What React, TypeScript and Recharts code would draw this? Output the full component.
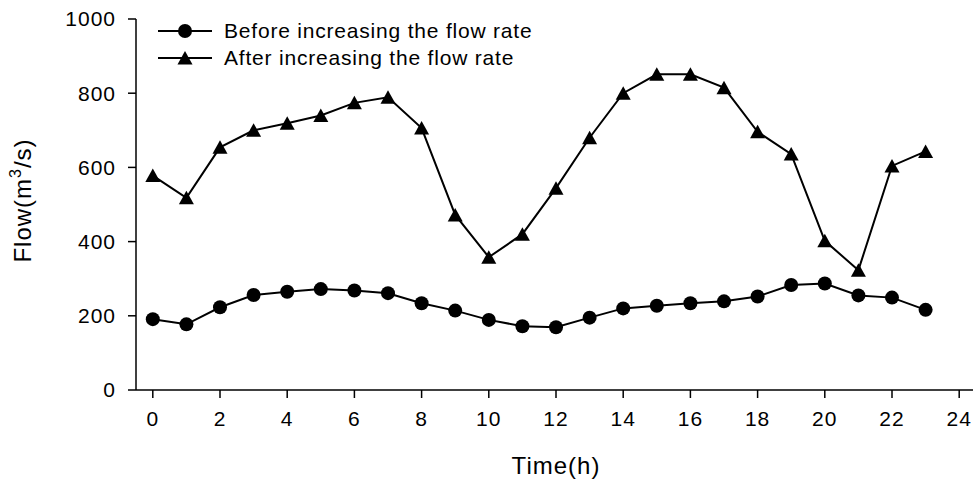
import { LineChart, Line, XAxis, YAxis, Legend } from "recharts";

const hours = [0, 1, 2, 3, 4, 5, 6, 7, 8, 9, 10, 11, 12, 13, 14, 15, 16, 17, 18, 19, 20, 21, 22, 23];
const beforeFlow = [191, 177, 223, 256, 265, 272, 268, 261, 234, 214, 189, 172, 169, 195, 220, 227, 234, 239, 252, 283, 287, 255, 249, 216];
const afterFlow = [578, 518, 654, 700, 719, 740, 774, 789, 706, 472, 358, 420, 544, 680, 800, 851, 851, 815, 696, 636, 402, 323, 604, 643];
const xTicks = [0, 2, 4, 6, 8, 10, 12, 14, 16, 18, 20, 22, 24];
const yTicks = [0, 200, 400, 600, 800, 1000];

const data = hours.map((h, i) => ({ hour: h, before: beforeFlow[i], after: afterFlow[i] }));

const FONT = "'Liberation Sans', Arial, sans-serif";

const CircleDot = (props: any) => {
  const { cx, cy, index } = props;
  if (cx == null || cy == null) return <g key={`c-${index}`} />;
  return <circle key={`c-${index}`} cx={cx} cy={cy} r={7} fill="#000" />;
};

const TriangleDot = (props: any) => {
  const { cx, cy, index } = props;
  if (cx == null || cy == null) return <g key={`t-${index}`} />;
  return (
    <polygon
      key={`t-${index}`}
      points={`${cx},${cy - 7} ${cx + 7.5},${cy + 6.5} ${cx - 7.5},${cy + 6.5}`}
      fill="#000"
    />
  );
};

const LegendBox = () => (
  <div style={{ fontFamily: FONT, fontSize: 21, letterSpacing: 0.8, color: "#000", lineHeight: "27px" }}>
    <div style={{ display: "flex", alignItems: "center", height: 27 }}>
      <svg width={54} height={20} style={{ marginRight: 12 }}>
        <line x1={0} y1={10} x2={54} y2={10} stroke="#000" strokeWidth={2} />
        <circle cx={27} cy={10} r={7} fill="#000" />
      </svg>
      <span>Before increasing the flow rate</span>
    </div>
    <div style={{ display: "flex", alignItems: "center", height: 27 }}>
      <svg width={54} height={20} style={{ marginRight: 12 }}>
        <line x1={0} y1={10} x2={54} y2={10} stroke="#000" strokeWidth={2} />
        <polygon points="27,3 34.5,16.5 19.5,16.5" fill="#000" />
      </svg>
      <span>After increasing the flow rate</span>
    </div>
  </div>
);

const YTitle = (props: any) => {
  const vb = props.viewBox || { x: 0, y: 19, width: 136, height: 371 };
  const cx = 23;
  const cy = vb.y + vb.height / 2 - 4;
  return (
    <text
      x={cx}
      y={cy}
      dy="0.35em"
      transform={`rotate(-90, ${cx}, ${cy})`}
      textAnchor="middle"
      fontFamily={FONT}
      fontSize={24}
      letterSpacing={1}
      fill="#000"
    >
      Flow(m
      <tspan dy={-10} fontSize={16}>3</tspan>
      <tspan dy={10}>/s)</tspan>
    </text>
  );
};

const XTitle = (props: any) => {
  const vb = props.viewBox || { x: 136, y: 390, width: 840, height: 92 };
  return (
    <text
      x={vb.x + vb.width / 2}
      y={474}
      textAnchor="middle"
      fontFamily={FONT}
      fontSize={24}
      letterSpacing={1}
      fill="#000"
    >
      Time(h)
    </text>
  );
};

const tickStyle = { fontFamily: FONT, fontSize: 21, letterSpacing: 1, fill: "#000" };

export default function App() {
  return (
    <div style={{ position: "absolute", left: 0, top: 0, width: 973, height: 482, overflow: "hidden", background: "#fff" }}>
      <LineChart width={976} height={482} data={data} margin={{ top: 19, right: 0, bottom: 0, left: 0 }}>
        <XAxis
          dataKey="hour"
          type="number"
          domain={[-0.5, 24.5]}
          ticks={xTicks}
          interval={0}
          height={92}
          tickSize={8}
          tickMargin={13}
          tick={tickStyle}
          axisLine={{ stroke: "#000", strokeWidth: 1.5 }}
          tickLine={{ stroke: "#000", strokeWidth: 1.5 }}
          label={<XTitle />}
        />
        <YAxis
          type="number"
          domain={[0, 1000]}
          ticks={yTicks}
          interval={0}
          width={136}
          tickSize={8}
          tickMargin={12}
          tick={tickStyle}
          axisLine={{ stroke: "#000", strokeWidth: 1.5 }}
          tickLine={{ stroke: "#000", strokeWidth: 1.5 }}
          label={<YTitle />}
        />
        <Legend
          layout="vertical"
          align="center"
          verticalAlign="middle"
          content={<LegendBox />}
          wrapperStyle={{ left: 158, top: 17, width: "auto", height: "auto" }}
        />
        <Line
          dataKey="before"
          stroke="#000"
          strokeWidth={2}
          dot={CircleDot}
          activeDot={false}
          isAnimationActive={false}
        />
        <Line
          dataKey="after"
          stroke="#000"
          strokeWidth={2}
          dot={TriangleDot}
          activeDot={false}
          isAnimationActive={false}
        />
      </LineChart>
    </div>
  );
}
